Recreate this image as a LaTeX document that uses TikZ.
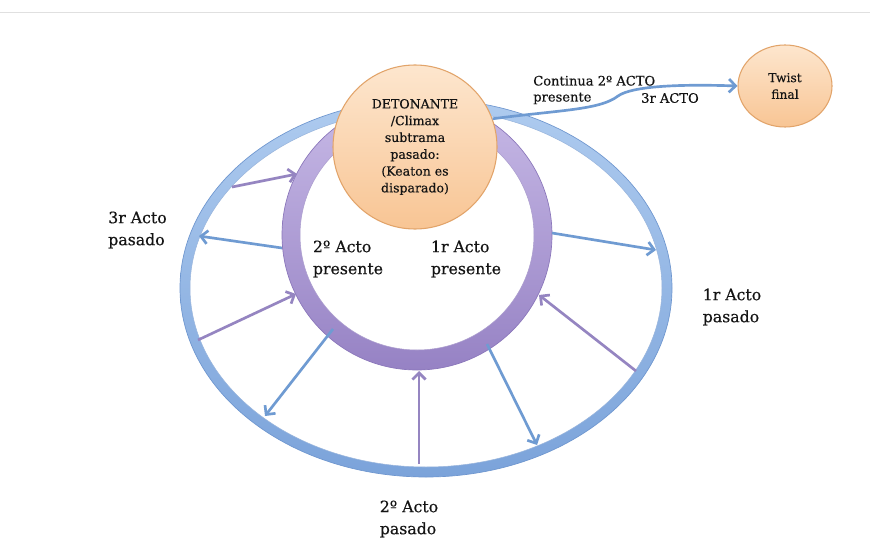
\documentclass[tikz,border=0pt]{standalone}
\usepackage{fontspec}
\setmainfont{DejaVu Serif}[UprightFeatures={FakeBold=0.4}]
\usetikzlibrary{arrows.meta,shapes.geometric}
\definecolor{ringblue}{HTML}{7BA3DA}
\definecolor{ringblueL}{HTML}{AECBEF}
\definecolor{ringblueD}{HTML}{6E96CF}
\definecolor{ringpurp}{HTML}{9682C4}
\definecolor{ringpurpL}{HTML}{C7B9E6}
\definecolor{ringpurpD}{HTML}{8A76BA}
\definecolor{arrblue}{HTML}{6F9BD2}
\definecolor{arrpurp}{HTML}{9585C1}
\definecolor{peachT}{HTML}{FDE6CE}
\definecolor{peachB}{HTML}{F8C594}
\definecolor{peachD}{HTML}{E2A46A}
\definecolor{txt}{HTML}{141414}
\begin{document}
\begin{tikzpicture}[x=0.75pt,y=-0.75pt,
  lbl/.style={font=\fontsize{11.8}{16.5}\selectfont, align=left, inner sep=0pt, text=txt},
  small/.style={font=\fontsize{9.8}{12}\selectfont, align=left, inner sep=0pt, text=txt},
  bubble/.style={draw=peachD, line width=0.8pt, top color=peachT, bottom color=peachB, text=txt, align=center, inner sep=0pt},
  parr/.style={draw=arrpurp, line width=2pt, -{Straight Barb[length=5pt,width=10pt,line width=2pt]}},
  barr/.style={draw=arrblue, line width=2pt, -{Straight Barb[length=5pt,width=10pt,line width=2pt]}}
]
\useasboundingbox (0,0) rectangle (870,556);
\fill[white] (0,0) rectangle (870,556);
\draw[black!12, line width=0.6pt] (0,12) -- (870,12);

% outer (blue) ring
\path[top color=ringblueL, bottom color=ringblue, even odd rule]
  (426,288) ellipse [x radius=246, y radius=189]
  (426,288) ellipse [x radius=236, y radius=179];
\draw[ringblueD, line width=0.5pt] (426,288) ellipse [x radius=246, y radius=189];
\draw[ringblueD!70, line width=0.4pt] (426,288) ellipse [x radius=236, y radius=179];

% inner (purple) ring
\path[top color=ringpurpL, bottom color=ringpurp, even odd rule]
  (417,235) ellipse [x radius=135, y radius=135]
  (417,235) ellipse [x radius=117, y radius=115];
\draw[ringpurpD, line width=0.5pt] (417,235) ellipse [x radius=135, y radius=135];
\draw[ringpurpD!70, line width=0.4pt] (417,235) ellipse [x radius=117, y radius=115];

% arrow endpoints
\coordinate (p1s) at (232,187); \coordinate (p1e) at (297,174);
\coordinate (p2s) at (198,340); \coordinate (p2e) at (296,294);
\coordinate (p3s) at (419,464); \coordinate (p3e) at (419,371);
\coordinate (p4s) at (636,371); \coordinate (p4e) at (539,295);
\coordinate (b5s) at (282,248); \coordinate (b5e) at (199,236);
\coordinate (b6s) at (333,329); \coordinate (b6e) at (265,416);
\coordinate (b7s) at (487,344); \coordinate (b7e) at (537,445);
\coordinate (b8s) at (552,233); \coordinate (b8e) at (656,250);

\draw[parr] (p1s) -- (p1e);
\draw[parr] (p2s) -- (p2e);
\draw[parr] (p3s) -- (p3e);
\draw[parr] (p4s) -- (p4e);
\draw[barr] (b5s) -- (b5e);
\draw[barr] (b6s) -- (b6e);
\draw[barr] (b7s) -- (b7e);
\draw[barr] (b8s) -- (b8e);

% nodes
\node[bubble, circle, minimum size=123pt,
      font=\fontsize{9.4}{12.6}\selectfont] (det) at (415,147)
  {DETONANTE\\/Climax\\subtrama\\pasado:\\(Keaton es\\disparado)};
\node[bubble, ellipse, minimum width=70.5pt, minimum height=61.5pt,
      font=\fontsize{9.2}{12.5}\selectfont] (twist) at (785,86) {Twist\\final};

\draw[draw=arrblue, line width=2pt, -{Straight Barb[length=5pt,width=10pt,line width=2pt]}]
  (det.20) .. controls (560,110) and (600,110) .. (618,96)
           .. controls (632,86) and (680,84) .. (twist.west);

% labels
\node[small, anchor=west] (cont) at (533,90) {Continua 2º ACTO\\presente};
\node[small] (act3) at (670,98) {3r ACTO};
\node[lbl, anchor=west] (l3p) at (108,230) {3r Acto\\pasado};
\node[lbl] (l2pr) at (348,259) {2º Acto\\presente};
\node[lbl] (l1pr) at (466,259) {1r Acto\\presente};
\node[lbl] (l1p) at (732,307) {1r Acto\\pasado};
\node[lbl] (l2p) at (409,519) {2º Acto\\pasado};
\end{tikzpicture}
\end{document}
